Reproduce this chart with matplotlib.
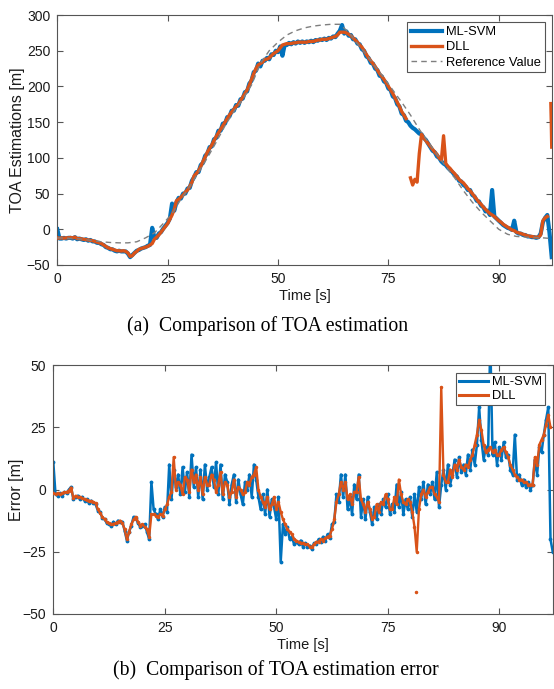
import numpy as np
import matplotlib
matplotlib.use("Agg")
import matplotlib.pyplot as plt

# ---------------- data ----------------
step = 0.5
time_hi = np.arange(0, 112.01, step)          # 0, 0.5, ... 112  (225 samples)
time_ref = np.arange(0, 112.01, 2.0)          # 0, 2, ... 112

# (a) TOA estimations [m]
toa_ml_svm = [
    0, -13, -13, -12, -13, -12, -12, -13, -11, -14,
    -13, -14, -15, -14, -16, -15, -17, -17, -19, -19,
    -21, -22, -25, -26, -28, -28, -30, -31, -30, -31,
    -31, -31, -34, -39, -36, -33, -30, -29, -27, -26,
    -25, -23, -22, 2, -12, -12, -6, -4, 1, 5,
    9, 15, 36, 26, 38, 44, 43, 50, 50, 57,
    58, 68, 73, 80, 80, 90, 93, 103, 106, 115,
    116, 126, 128, 138, 138, 148, 148, 157, 158, 166,
    166, 174, 173, 182, 183, 192, 193, 204, 208, 220,
    222, 232, 228, 236, 236, 240, 238, 245, 244, 250,
    248, 256, 243, 258, 258, 261, 259, 262, 260, 263,
    261, 263, 261, 263, 262, 264, 262, 265, 264, 266,
    265, 267, 265, 268, 267, 270, 269, 274, 278, 286,
    274, 277, 271, 272, 266, 266, 260, 259, 252, 250,
    242, 240, 233, 232, 225, 223, 215, 214, 207, 205,
    197, 195, 186, 184, 175, 172, 162, 160, 152, 150,
    145, 142, 140, 137, 134, 133, 128, 125, 120, 115,
    110, 108, 102, 100, 95, 92, 90, 86, 83, 80,
    76, 74, 68, 67, 62, 60, 55, 55, 48, 46,
    40, 39, 33, 31, 25, 26, 20, 55, 18, 15,
    12, 9, 6, 4, 2, 1, -1, 12, -4, -6,
    -6, -8, -8, -10, -10, -11, -11, -12, -11, -6,
    10, 16, 20, -5, -39,
]
toa_dll = [
    -12, -12.5, -12, -12.5, -12, -12, -11.5, -12, -11, -13,
    -13, -13.5, -14, -14.5, -15, -15.5, -16, -17, -18, -19,
    -20, -22, -24, -26, -27, -28, -29, -30, -30, -30.5,
    -30, -31, -33, -38, -37, -33, -31, -28, -27, -26,
    -25, -24, -22, -20, -14, -11, -8, -4, 0, 4,
    8, 14, 20, 28, 40, 42, 45, 48, 52, 55,
    60, 66, 75, 78, 82, 88, 95, 101, 108, 113,
    118, 124, 130, 135, 140, 145, 150, 155, 160, 164,
    168, 172, 175, 180, 185, 190, 195, 202, 210, 218,
    225, 230, 232, 234, 238, 238, 240, 243, 246, 248,
    250, 254, 258, 259, 260, 260, 260, 261, 261, 262,
    262, 262, 262, 262, 263, 263, 263, 264, 265, 265,
    266, 266, 266, 267, 268, 269, 270, 272, 276, 276,
    276, 275, 273, 271, 268, 265, 262, 258, 255, 250,
    245, 240, 236, 232, 228, 223, 218, 214, 210, 205,
    200, 195, 190, 184, 178, 172, 165, 160, 155, np.nan,
    72, 62, 70, 66, 106, 133, 128, 124, 120, 116,
    112, 108, 105, 100, 97, 131, 92, 88, 85, 81,
    78, 74, 70, 67, 65, 61, 57, 54, 50, 46,
    42, 38, 35, 31, 28, 25, 22, 20, 18, 15,
    12, 10, 7, 5, 3, 1, -1, -2, -4, -5,
    -6, -7, -8, -9, -10, -10, -11, -11, -11, -8,
    12, 16, 18, np.nan, np.nan,
]
dll_tail_time = [111.8, 111.9, 112.0]
dll_tail_toa = [176, 150, 115]

toa_reference = [
    -12, -12.5, -13, -14, -16, -17.5, -18.5, -19, -19, -17.5,
    -12, -5, 8, 22, 42, 60, 80, 100, 122, 145,
    165, 182, 202, 232, 250, 262, 272, 278, 282, 284.5,
    286, 287, 287, 276, 260, 245, 228, 212, 195, 178,
    160, 140, 122, 105, 88, 72, 54, 38, 24, 12,
    0, -7, -10, -11, -11.5, -12, -13,
]

# (b) TOA estimation error [m]
err_ml_svm = [
    11, -2, -2.5, -1.5, -2.5, -1, -1.5, 0, 1, -4,
    -3, -2.5, -4, -3, -4.5, -4, -5.5, -4.5, -5.5, -6,
    -8.5, -9, -11.5, -12, -13.5, -14, -14.5, -13, -14, -12.5,
    -13, -13, -16.5, -20.5, -17, -14.5, -11, -11.5, -13.5, -15,
    -14.5, -14, -17, -20, 3, -8, -10, -12, -8, -11,
    -7, -9, 10, -4, 8, 1, 6, -2, 9, -1,
    7, -3, 14, 1, 9, -3, 8, -4, 10, 0,
    5, 9, 1, 11, -2, 10, -4, 6, 3, -6,
    2, 6, -5, 4, -2, -6, 3, 0, 6, -3,
    10, 4, -3, -8, -2, -10, 0, -11, -4, -7,
    -12, -3, -29, -14, -18, -15, -20, -19, -22, -21,
    -22, -20.5, -23, -21.5, -23, -22.5, -24, -21.5, -22, -20,
    -21, -19, -20.5, -18, -19.5, -14, -13, -2, -5, 6,
    -3, 6, -8, -3, -10, 2, -4, 6, -11, -4,
    -12, -3, -9, -14, -7, -12, -6, -10, -4, -7,
    -2, -10, -6, -9, 2, -7, -1, -10, -4, -8,
    -3, -11, -2, -9, 1, -4, 3, -6, 2, -2,
    3, -4, 7, -7, 2, 8, 0, 10, 2, 6,
    12, 5, 13, 7, 10, 6, 14, 8, 16, 10,
    18, 33, 20, 12, 17, 14, 60, 14, 19, 10,
    17, 12, 19, 13, 14, 8, 6, 22, 4, 6,
    2, 4, 1, 3, 0, 2, 12, 6, 17, 15,
    22, 28, 33, -20, -25,
]
err_dll = [
    -1.5, -1.8, -1.5, -2, -1.5, -1.2, -1, -0.5, 0.8, -3.5,
    -2.5, -3, -3, -3.5, -4, -4.2, -4.5, -4.8, -5, -5.5,
    -8, -9.5, -11, -12, -13, -13.5, -14, -13.8, -13.5, -13,
    -12.5, -13.5, -16, -20, -17, -14, -12, -11, -13, -14.5,
    -14, -15, -16, -19, -10, -10, -10.5, -11, -10, -10.5,
    -8, -6, -3, -1, 13, 0, 3, 2, -2, 5,
    4, -1, 8, 3, 6, 0, 5, -2, 5, 2,
    2, 6, 4, -1, 2, 7, -2, 3, 2, -3,
    -1, 4, -3, 1, 0, -2, -1, 3, 2, 5,
    6, 9, 0, -3, -5, -7, -3, -8, -6, -3,
    -8, -5, -9, -12, -14, -16, -17, -18, -20, -20.5,
    -21, -21.5, -21.5, -22, -22, -23, -23, -22, -21, -21,
    -20, -20.5, -19.5, -19, -18.5, -16, -12, -5, -2, 3,
    0, 3, -4, -2, -6, -1, -1, 5, -4, -6,
    -9, -5, -8, -12, -11, -6, -9, -5, -6, -2,
    -4, -8, -8, -3, -6, 4, -2, -5, -6, -4,
    -5, -9, -15, -25, -8, -2, 0, -3, -1, 1,
    1, -2, -3, -5, 41, 6, 3, 3, 8, 5,
    10, 8, 12, 9, 8, 10, 9, 12, 14, 18,
    22, 28, 24, 18, 15, 16, 17, 15, 16, 14,
    14, 16, 17, 15, 13, 10, 8, 6, 5, 4,
    4, 3, 3, 2, 2, 2, 13, 10, 18, 20,
    22, 26, 30, 25, np.nan,
]
dll_err_outlier_time = [81.3]
dll_err_outlier = [-41]

tick_positions = [0, 25, 50, 75, 100]
tick_labels = ["0", "25", "50", "75", "90"]

# ---------------- styling ----------------
C_ML = "#0072BD"
C_DLL = "#D95319"
C_REF = "#7f7f7f"
AX_COL = "#555555"

plt.rcParams["font.family"] = ["Liberation Sans", "DejaVu Sans"]
fig = plt.figure(figsize=(5.54, 6.89), dpi=100)

def style_axes(ax, ylim, yticks):
    ax.set_xlim(0, 112)
    ax.set_ylim(*ylim)
    ax.set_xticks(tick_positions)
    ax.set_xticklabels(tick_labels)
    ax.set_yticks(yticks)
    ax.tick_params(direction="in", top=True, right=True, length=4,
                   width=0.8, color=AX_COL, labelsize=10, labelcolor="#1a1a1a", pad=5)
    for s in ax.spines.values():
        s.set_color(AX_COL)
        s.set_linewidth(0.8)
    ax.set_xlabel("Time [s]", fontsize=10.5, color="#1a1a1a", labelpad=2)

# (a)
ax1 = fig.add_axes([0.1034, 0.6154, 0.8925, 0.3628])
ax1.plot(time_hi, toa_ml_svm, color=C_ML, lw=3.0, label="ML-SVM", zorder=2)
ax1.plot(time_hi, toa_dll, color=C_DLL, lw=2.4, label="DLL", zorder=3)
ax1.plot(dll_tail_time, dll_tail_toa, color=C_DLL, lw=2.4, zorder=3)
ax1.plot(time_ref, toa_reference, color=C_REF, lw=1.0, ls=(0, (4, 3)),
         label="Reference Value", zorder=4)
style_axes(ax1, (-50, 300), np.arange(-50, 301, 50))
ax1.set_ylabel("TOA Estimations [m]", fontsize=11.5, color="#1a1a1a")
ax1.yaxis.set_label_coords(-0.066, 0.5)
leg1 = ax1.legend(loc="upper right", fontsize=9.3, handlelength=2.4, handletextpad=0.3,
                  borderpad=0.3, labelspacing=0.25, fancybox=False, framealpha=1,
                  edgecolor=AX_COL, borderaxespad=0.55)
leg1.get_frame().set_linewidth(0.8)

# (b)
ax2 = fig.add_axes([0.0962, 0.1089, 0.9015, 0.3613])
ax2.plot(time_hi, err_ml_svm, color=C_ML, lw=1.8, marker=".", ms=3.5,
         label="ML-SVM", zorder=2)
ax2.plot(time_hi, err_dll, color=C_DLL, lw=1.7, marker=".", ms=3.0,
         label="DLL", zorder=3)
ax2.plot(dll_err_outlier_time, dll_err_outlier, ls="none", marker=".", ms=3,
         color=C_DLL, zorder=3)
style_axes(ax2, (-50, 50), [-50, -25, 0, 25, 50])
ax2.set_ylabel("Error [m]", fontsize=11.5, color="#1a1a1a")
ax2.yaxis.set_label_coords(-0.059, 0.5)
leg2 = ax2.legend(loc="upper right", fontsize=9.3, handlelength=2.2, handletextpad=0.3,
                  borderpad=0.25, labelspacing=0.15, fancybox=False, framealpha=1,
                  edgecolor=AX_COL, borderaxespad=0.6)
leg2.get_frame().set_linewidth(0.8)
for h in leg2.legend_handles:
    h.set_linewidth(2.2)
    h.set_marker("")

# captions
fig.text(268 / 554, 1 - 326 / 689, "(a)  Comparison of TOA estimation",
         family=["Liberation Serif", "DejaVu Serif"], fontsize=14.2, ha="center", va="center")
fig.text(276 / 554, 1 - 670 / 689, "(b)  Comparison of TOA estimation error",
         family=["Liberation Serif", "DejaVu Serif"], fontsize=14.2, ha="center", va="center")

fig.savefig("out.png", dpi=100)
